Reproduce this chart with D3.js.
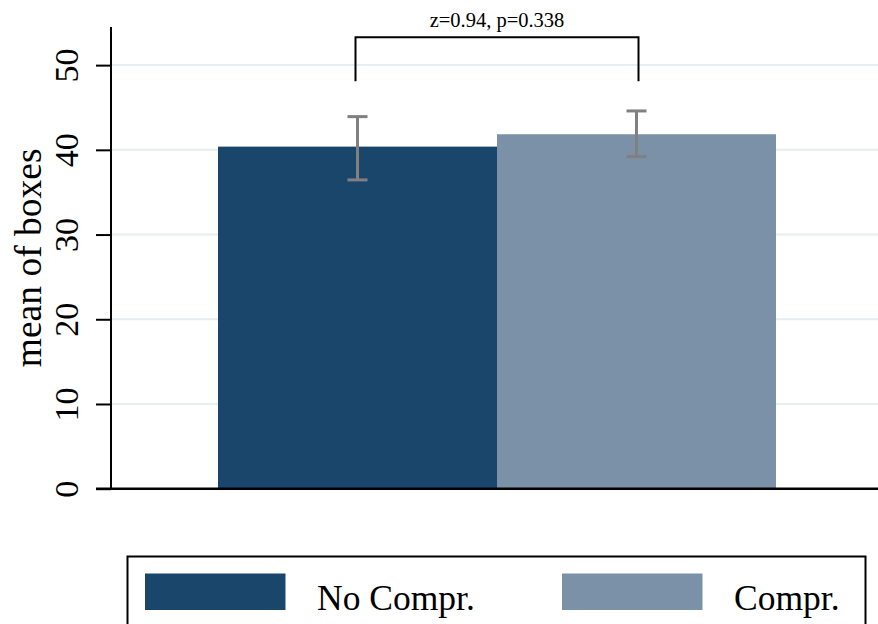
<!DOCTYPE html>
<html>
<head>
<meta charset="utf-8">
<script src="https://cdn.jsdelivr.net/npm/d3@7"></script>
<style>
  html, body { margin: 0; padding: 0; background: #ffffff; }
  svg { display: block; }
  text { font-family: "Liberation Serif", "Times New Roman", serif; fill: #000; }
</style>
</head>
<body>
<svg id="chart" width="878" height="624"></svg>
<script>
// Group means and 95% confidence bounds
const categories = ["No Compr.", "Compr."];
const means = [40.38, 41.84];
const ciUpper = [43.92, 44.59];
const ciLower = [36.45, 39.2];
const colors = ["#1b466c", "#7b91a8"];
const yTicks = [0, 10, 20, 30, 40, 50];
const testLabel = "z=0.94, p=0.338";
const yLabel = "mean of boxes";

const svg = d3.select("#chart");
const W = 878;

const y = d3.scaleLinear().domain([0, 54.5]).range([488.7, 27]);
const x = d3.scaleBand().domain(categories).range([218, 776]).paddingInner(0).paddingOuter(0);
const axisX = 111;

// horizontal gridlines
svg.append("g").selectAll("line").data(yTicks.filter(d => d > 0)).join("line")
  .attr("x1", axisX).attr("x2", W)
  .attr("y1", d => y(d)).attr("y2", d => y(d))
  .attr("stroke", "#e5eef0").attr("stroke-width", 2);

// bars
svg.append("g").selectAll("rect").data(categories).join("rect")
  .attr("x", d => x(d))
  .attr("y", (d, i) => y(means[i]))
  .attr("width", x.bandwidth())
  .attr("height", (d, i) => y(0) - y(means[i]))
  .attr("fill", (d, i) => colors[i]);

// confidence interval whiskers
const eb = svg.append("g").attr("stroke", "#808080").attr("stroke-width", 3).attr("fill", "none");
categories.forEach((c, i) => {
  const cx = x(c) + x.bandwidth() / 2;
  eb.append("line").attr("x1", cx).attr("x2", cx).attr("y1", y(ciUpper[i])).attr("y2", y(ciLower[i]));
  eb.append("line").attr("x1", cx - 10).attr("x2", cx + 10).attr("y1", y(ciUpper[i])).attr("y2", y(ciUpper[i]));
  eb.append("line").attr("x1", cx - 10).attr("x2", cx + 10).attr("y1", y(ciLower[i])).attr("y2", y(ciLower[i]));
});

// y axis
const yAxis = d3.axisLeft(y).tickValues(yTicks).tickSize(15).tickPadding(18);
const gy = svg.append("g").attr("transform", `translate(${axisX},0)`).call(yAxis);
gy.select(".domain").remove();
gy.append("line").attr("x1", 0).attr("x2", 0).attr("y1", y(54.5)).attr("y2", y(0))
  .attr("stroke", "#000").attr("stroke-width", 2);
gy.selectAll(".tick line").attr("stroke", "#000").attr("stroke-width", 2);
gy.selectAll(".tick text")
  .attr("font-size", 34)
  .attr("font-family", "Liberation Serif, serif")
  .attr("fill", "#000")
  .attr("x", null).attr("dy", null)
  .attr("text-anchor", "middle")
  .attr("transform", "translate(-33,0) rotate(-90)")
  .attr("y", 0);

// x axis baseline
svg.append("line").attr("x1", 96).attr("x2", W).attr("y1", y(0)).attr("y2", y(0))
  .attr("stroke", "#000").attr("stroke-width", 2.5);

// y axis title
svg.append("text")
  .attr("transform", `translate(41,${(y(0) + y(54.5)) / 2}) rotate(-90)`)
  .attr("text-anchor", "middle")
  .attr("font-size", 37.5)
  .text(yLabel);

// significance bracket between the two groups
const cx0 = x(categories[0]) + x.bandwidth() / 2 - 2;
const cx1 = x(categories[1]) + x.bandwidth() / 2 + 2;
svg.append("path")
  .attr("d", `M${cx0},${y(48.1)} V${y(53.3)} H${cx1} V${y(48.1)}`)
  .attr("fill", "none").attr("stroke", "#000").attr("stroke-width", 2);
svg.append("text")
  .attr("x", (cx0 + cx1) / 2).attr("y", 26.5)
  .attr("text-anchor", "middle")
  .attr("font-size", 20.5)
  .attr("fill", "#333")
  .text(testLabel);

// legend
const lg = svg.append("g");
lg.append("rect").attr("x", 127.5).attr("y", 556.5).attr("width", 738).attr("height", 100)
  .attr("fill", "none").attr("stroke", "#000").attr("stroke-width", 2);
const legendX = [145, 562];
const legendTextX = [317, 734];
categories.forEach((c, i) => {
  lg.append("rect").attr("x", legendX[i]).attr("y", 573.5).attr("width", 140.5).attr("height", 36.5)
    .attr("fill", colors[i]);
  lg.append("text").attr("x", legendTextX[i]).attr("y", 610).attr("font-size", 35.5).text(c);
});
</script>
</body>
</html>
